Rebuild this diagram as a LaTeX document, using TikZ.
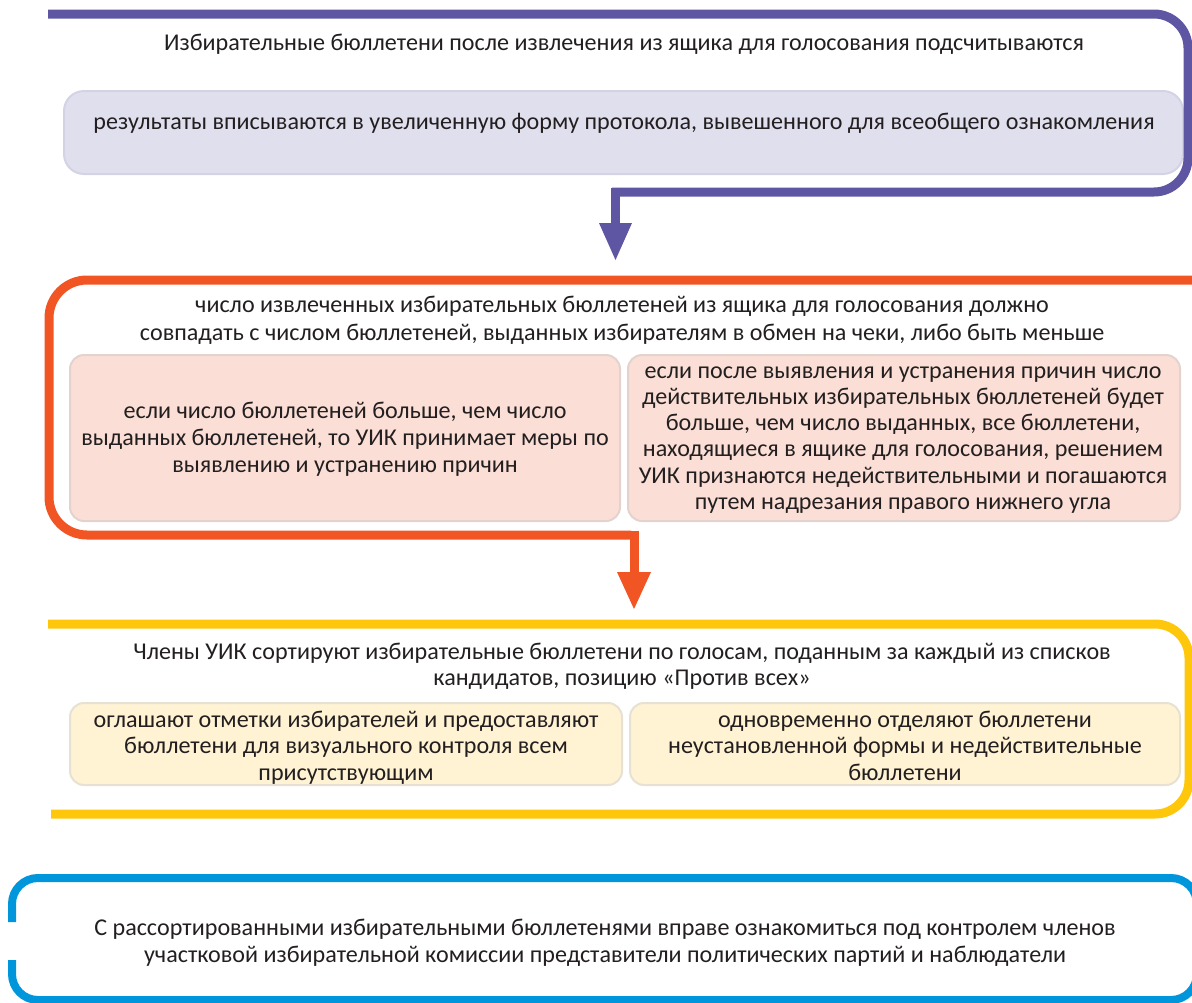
\documentclass[tikz,border=0pt]{standalone}
\usepackage{fontspec}
\setmainfont{Carlito}
\definecolor{cpurple}{RGB}{94,86,163}
\definecolor{corange}{RGB}{241,85,36}
\definecolor{cyellow}{RGB}{255,199,12}
\definecolor{cblue}{RGB}{0,150,219}
\definecolor{lavfill}{RGB}{224,223,238}
\definecolor{lavline}{RGB}{212,211,230}
\definecolor{pinkfill}{RGB}{251,223,214}
\definecolor{pinkline}{RGB}{226,211,207}
\definecolor{creamfill}{RGB}{255,243,212}
\definecolor{creamline}{RGB}{230,225,210}
\definecolor{txt}{RGB}{35,31,32}
\tikzset{
  frame/.style={line width=9pt},
  subbox/.style={draw, line width=2pt, rounded corners=14pt, inner sep=0pt},
  lbl/.style={text=txt, align=center, inner sep=0pt, anchor=base},
  fsA/.style={font=\fontsize{24.1}{26.3}\selectfont},
  fsB/.style={font=\fontsize{24.1}{28}\selectfont},
  fsC/.style={font=\fontsize{24.1}{25.5}\selectfont},
  fsD/.style={font=\fontsize{24.1}{27}\selectfont},
}
\begin{document}
\begin{tikzpicture}[x=1pt,y=-1pt]
\useasboundingbox (0,0) rectangle (1192,1002);

% ---------- panel 1 (purple)
\node[subbox, fill=lavfill, draw=lavline, rounded corners=20pt,
      minimum width=1119pt, minimum height=83pt] (b1) at (623.5,132.5) {};
\draw[frame, cpurple, rounded corners=34pt] (48,14) -- (1188,14) -- (1188,192) -- (612,192);
\coordinate (a1s) at (615,187.5);
\coordinate (a1b) at (615,224);
\draw[frame, cpurple] (a1s) -- (a1b);
\fill[cpurple] (599,223) -- (632,223) -- (615.5,260) -- cycle;
\node[lbl, fsA] (t1) at (624,50) {Избирательные бюллетени после извлечения из ящика для голосования подсчитываются};
\node[lbl, fsA] (t2) at (624,129) {результаты вписываются в увеличенную форму протокола, вывешенного для всеобщего ознакомления};

% ---------- panel 2 (orange)
\node[subbox, fill=pinkfill, draw=pinkline, minimum width=550pt, minimum height=166pt] (b2l) at (345,438) {};
\node[subbox, fill=pinkfill, draw=pinkline, minimum width=552pt, minimum height=166pt] (b2r) at (904,438) {};
\draw[frame, corange, rounded corners=38pt] (1200,280) -- (49,280) -- (49,535) -- (631,535);
\coordinate (a2s) at (634,530.5);
\coordinate (a2b) at (634,573);
\draw[frame, corange] (a2s) -- (a2b);
\fill[corange] (617,572) -- (651,572) -- (634,609) -- cycle;
\node[lbl, fsB] (t3) at (622,340) {число извлеченных избирательных бюллетеней из ящика для голосования должно\\совпадать с числом бюллетеней, выданных избирателям в обмен на чеки, либо быть меньше};
\node[lbl, fsD] (t4) at (345,472) {если число бюллетеней больше, чем число\\выданных бюллетеней, то УИК принимает меры по\\выявлению и устранению причин};
\node[lbl, fsA] (t5) at (903,509.5) {если после выявления и устранения причин число\\действительных избирательных бюллетеней будет\\больше, чем число выданных, все бюллетени,\\находящиеся в ящике для голосования, решением\\УИК признаются недействительными и погашаются\\путем надрезания правого нижнего угла};

% ---------- panel 3 (yellow)
\node[subbox, fill=creamfill, draw=creamline, minimum width=552pt, minimum height=82pt] (b3l) at (346,744) {};
\node[subbox, fill=creamfill, draw=creamline, minimum width=550pt, minimum height=82pt] (b3r) at (905,744) {};
\draw[frame, cyellow, rounded corners=34pt] (48,624) -- (1189,624) -- (1189,814) -- (51,814);
\node[lbl, fsC] (t6) at (622,685) {Члены УИК сортируют избирательные бюллетени по голосам, поданным за каждый из списков\\кандидатов, позицию «Против всех»};
\node[lbl, fsA] (t7) at (346,780) {оглашают отметки избирателей и предоставляют\\бюллетени для визуального контроля всем\\присутствующим};
\node[lbl, fsA] (t8) at (905,780) {одновременно отделяют бюллетени\\неустановленной формы и недействительные\\бюллетени};

% ---------- panel 4 (blue)
\draw[line width=8pt, cblue, rounded corners=26pt] (12,922) -- (12,878) -- (1197,878) -- (1197,1000) -- (12,1000) -- (12,960);
\node[lbl, fsD] (t9) at (605,962) {С рассортированными избирательными бюллетенями вправе ознакомиться под контролем членов\\участковой избирательной комиссии представители политических партий и наблюдатели};
\end{tikzpicture}
\end{document}
